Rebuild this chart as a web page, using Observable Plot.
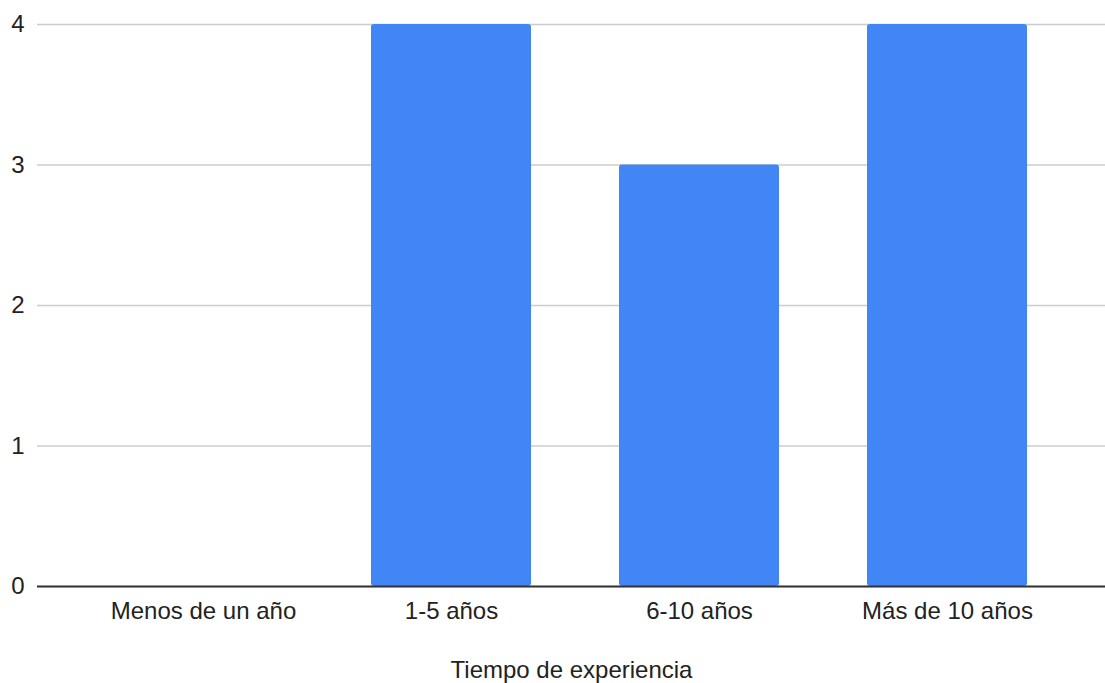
<!DOCTYPE html>
<html>
<head>
<meta charset="utf-8">
<script src="https://cdn.jsdelivr.net/npm/d3@7"></script>
<script src="https://cdn.jsdelivr.net/npm/@observablehq/plot@0.6"></script>
<style>
  html, body { margin: 0; padding: 0; background: #fff; }
  #chart svg { display: block; }
</style>
</head>
<body>
<div id="chart"></div>
<script>
const categories = ["Menos de un año", "1-5 años", "6-10 años", "Más de 10 años"];
const values = [0, 4, 3, 4];
const yTicks = [0, 1, 2, 3, 4];
const xLabel = "Tiempo de experiencia";

const data = categories.map((c, i) => ({category: c, value: values[i]}));

const chart = Plot.plot({
  width: 1105,
  height: 683,
  marginLeft: 37,
  marginRight: 0,
  marginTop: 24,
  marginBottom: 97,
  style: {fontFamily: "'Liberation Sans', Arial, sans-serif", fontSize: "24px", color: "#222", background: "#fff"},
  x: {domain: categories, range: [79, 1071], paddingInner: 0.355, paddingOuter: 0.1775},
  y: {domain: [0, 4], ticks: yTicks},
  marks: [
    Plot.gridY(yTicks, {stroke: "#cccccc", strokeOpacity: 1, strokeWidth: 1.3}),
    Plot.barY(data, {x: "category", y: "value", fill: "#4285F4", rx: 3}),
    Plot.ruleY([0], {stroke: "#333", strokeWidth: 2}),
    Plot.axisY(yTicks, {tickSize: 0, tickPadding: 13, tickFormat: (d) => String(d), label: null, fill: "#222", fontSize: "24px"}),
    Plot.axisX({tickSize: 0, tickPadding: 15, label: xLabel, labelAnchor: "center", labelOffset: 91, labelArrow: "none", fill: "#222", fontSize: "24px"})
  ]
});
document.getElementById("chart").appendChild(chart);
</script>
</body>
</html>
